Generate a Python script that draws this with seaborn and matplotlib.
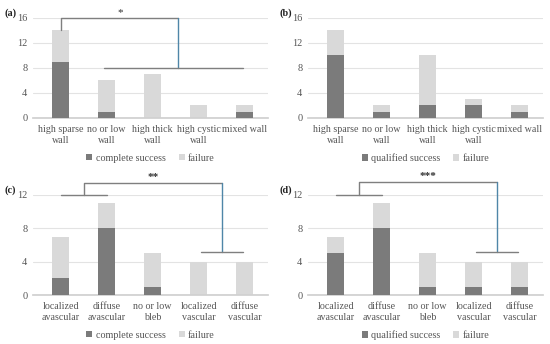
import matplotlib
matplotlib.use('Agg')
import matplotlib.pyplot as plt
import seaborn as sns
import pandas as pd
import numpy as np

# categories
wall_cats = ['high sparse\nwall', 'no or low\nwall', 'high thick\nwall', 'high cystic\nwall', 'mixed wall']
bleb_cats = ['localized\navascular', 'diffuse\navascular', 'no or low\nbleb', 'localized\nvascular', 'diffuse\nvascular']

# (a) wall, complete success
a_success = [9, 1, 0, 0, 1]
a_failure = [5, 5, 7, 2, 1]
# (b) wall, qualified success
b_success = [10, 1, 2, 2, 1]
b_failure = [4, 1, 8, 1, 1]
# (c) bleb, complete success
c_success = [2, 8, 1, 0, 0]
c_failure = [5, 3, 4, 4, 4]
# (d) bleb, qualified success
d_success = [5, 8, 1, 1, 1]
d_failure = [2, 3, 4, 3, 3]

dark = '#7b7b7b'
light = '#d9d9d9'
grid = '#e3e3e3'
brk = '#7f7f7f'
blue = '#4f86a8'

sns.set_theme(style='white')
plt.rcParams['font.family'] = ['Liberation Serif', 'DejaVu Serif']

fig = plt.figure(figsize=(5.5, 3.44), dpi=100)
axa = fig.add_axes([0.06, 0.657, 0.427, 0.291])
axb = fig.add_axes([0.56, 0.657, 0.427, 0.291])
axc = fig.add_axes([0.06, 0.1424, 0.427, 0.291])
axd = fig.add_axes([0.56, 0.1424, 0.427, 0.291])


def panel(ax, cats, succ, fail, succ_name, ymax, step, letter):
    total = [s + f for s, f in zip(succ, fail)]
    df_tot = pd.DataFrame({'cat': cats, 'n': total})
    df_suc = pd.DataFrame({'cat': cats, 'n': succ})
    sns.barplot(data=df_tot, x='cat', y='n', color=light, width=0.37,
                saturation=1, ax=ax, label='failure', zorder=2, linewidth=0)
    sns.barplot(data=df_suc, x='cat', y='n', color=dark, width=0.37,
                saturation=1, ax=ax, label=succ_name, zorder=3, linewidth=0)
    ax.set_ylim(0, ymax)
    ax.set_xlim(-0.6, 4.5)
    ax.set_yticks(np.arange(0, ymax + 1, step))
    ax.yaxis.grid(True, color=grid, linewidth=0.8, zorder=0)
    ax.set_axisbelow(True)
    ax.set_xlabel('')
    ax.set_ylabel('')
    for s in ['top', 'right', 'left']:
        ax.spines[s].set_visible(False)
    ax.spines['bottom'].set_color('#d0d0d0')
    ax.tick_params(axis='y', length=0, labelsize=7.4, colors='#555555', pad=4)
    ax.tick_params(axis='x', length=0, labelsize=7.2, colors='#555555', pad=5)
    for t in ax.get_xticklabels():
        t.set_linespacing(1.3)
    h, l = ax.get_legend_handles_labels()
    order = [l.index(succ_name), l.index('failure')]
    ax.legend([h[i] for i in order], [l[i] for i in order], loc='center',
              bbox_to_anchor=(0.5, -0.40), ncol=2, frameon=False, fontsize=7.3,
              handlelength=0.6, handleheight=0.6, handletextpad=0.3,
              columnspacing=1.3, labelcolor='#555555', borderpad=0)
    ax.text(-0.12, 1.05, letter, transform=ax.transAxes, fontsize=7.3,
            fontweight='bold', ha='left', va='center', color='#222222')


panel(axa, wall_cats, a_success, a_failure, 'complete success', 16, 4, '(a)')
panel(axb, wall_cats, b_success, b_failure, 'qualified success', 16, 4, '(b)')
panel(axc, bleb_cats, c_success, c_failure, 'complete success', 12, 4, '(c)')
panel(axd, bleb_cats, d_success, d_failure, 'qualified success', 12, 4, '(d)')

lw = 1.0
# (a) brackets
axa.plot([0, 0, 2.55], [14, 16, 16], color=brk, lw=lw, clip_on=False, zorder=4)
axa.plot([2.55, 2.55], [16, 8], color=blue, lw=lw, clip_on=False, zorder=4)
axa.plot([0.95, 3.95], [8, 8], color=brk, lw=lw, clip_on=False, zorder=4)
axa.text(1.3, 16.2, '*', ha='center', va='bottom', fontsize=8, color='#333333')

# (c) and (d) brackets
for ax, stars, top in [(axc, '**', 13.4), (axd, '***', 13.6)]:
    ax.plot([0, 1], [12, 12], color=brk, lw=lw, clip_on=False, zorder=4)
    ax.plot([0.5, 0.5, 3.5], [12, top, top], color=brk, lw=lw, clip_on=False, zorder=4)
    ax.plot([3.5, 3.5], [top, 5.2], color=blue, lw=lw, clip_on=False, zorder=4)
    ax.plot([3.05, 3.95], [5.2, 5.2], color=brk, lw=lw, clip_on=False, zorder=4)
    ax.text(2.0, top + 0.1, stars, ha='center', va='bottom', fontsize=8,
            fontweight='bold', color='#333333')

fig.savefig('out.png', dpi=100)
